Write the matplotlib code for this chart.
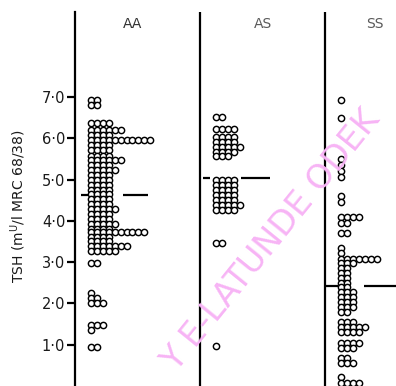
import matplotlib.pyplot as plt

# rows of the dot plot: TSH level of the row and how many circles sit on it
groups = ['AA', 'AS', 'SS']

aa_tsh = [6.93, 6.80, 6.38, 6.21, 6.08, 5.96, 5.84, 5.72, 5.58, 5.48, 5.36,
          5.24, 5.12, 5.00, 4.88, 4.76, 4.64, 4.52, 4.40, 4.28, 4.16, 4.04,
          3.92, 3.80, 3.74, 3.62, 3.52, 3.40, 3.28, 2.98, 2.25, 2.13, 2.00,
          1.48, 1.36, 0.95]
aa_n = [2, 2, 4, 6, 4, 11, 4, 4, 4, 6, 4,
        5, 4, 4, 4, 4, 4, 4, 4, 5, 4, 4,
        5, 4, 10, 4, 4, 7, 5, 2, 1, 2, 3,
        3, 1, 2]

as_tsh = [6.52, 6.23, 6.04, 5.92, 5.80, 5.67, 5.57, 4.99, 4.87, 4.75, 4.63,
          4.51, 4.39, 4.27, 3.47, 0.98]
as_n = [2, 4, 4, 4, 5, 4, 3, 4, 4, 4, 4,
        4, 5, 4, 2, 1]

ss_tsh = [6.93, 6.50, 5.50, 5.36, 5.21, 5.06, 4.60, 4.46, 4.10, 3.95, 3.70,
          3.35, 3.23, 3.08, 2.98, 2.86, 2.74, 2.62, 2.50, 2.40, 2.28, 2.16,
          2.04, 1.92, 1.80, 1.56, 1.43, 1.30, 1.05, 0.93, 0.68, 0.56, 0.22,
          0.08]
ss_n = [1, 1, 1, 1, 1, 1, 1, 1, 4, 2, 2,
        1, 1, 7, 3, 2, 2, 2, 2, 2, 3, 3,
        3, 3, 2, 3, 5, 4, 4, 3, 2, 3, 1,
        4]

means = [4.62, 5.04, 2.42]

yticks = [1, 2, 3, 4, 5, 6, 7]
ytick_labels = ['1·0', '2·0', '3·0', '4·0', '5·0', '6·0', '7·0']

rows = [(aa_tsh, aa_n), (as_tsh, as_n), (ss_tsh, ss_n)]

# mean bar pieces left / right of the dots, in column units
mean_left = [(0.05, 0.10), (0.02, 0.08), (0.0, 0.10)]
mean_right = [(0.38, 0.58), (0.33, 0.56), (0.31, 0.80)]

fig = plt.figure(figsize=(3.96, 3.86), dpi=100)
ax = fig.add_axes([75 / 396, 0.0, 321 / 396, 1 - 12 / 386])

offset = 0.13
step = 0.047
for g, (vals, counts) in enumerate(rows):
    xs, ys = [], []
    for v, n in zip(vals, counts):
        for i in range(n):
            xs.append(g + offset + i * step)
            ys.append(v)
    ax.plot(xs, ys, 'o', ms=4.5, mfc='white', mec='black', mew=1.05,
            zorder=3, clip_on=False)
    for a, b in (mean_left[g], mean_right[g]):
        ax.plot([g + a, g + b], [means[g], means[g]], color='black', lw=1.6,
                solid_capstyle='butt', zorder=2)
    if g > 0:
        ax.axvline(g, color='black', lw=1.6)

ax.set_xlim(0, 321 / 125)
ax.set_ylim(0.0, 9.06)
ax.set_xticks([])
ax.set_yticks(yticks)
ax.set_yticklabels(ytick_labels, fontsize=10.5, color='#1a1a1a')
ax.tick_params(axis='y', direction='out', length=6, width=1.6, pad=1)
for s in ['top', 'right', 'bottom']:
    ax.spines[s].set_visible(False)
ax.spines['left'].set_linewidth(1.6)

fig.text(18 / 396, 0.465, r'TSH (m$^{\mathrm{U}}$/l MRC 68/38)', rotation=90,
         ha='center', va='center', fontsize=10, color='#1a1a1a')

title_x = [133, 263, 375]
title_c = ['#333333', '#5a5a5a', '#5a5a5a']
for name, tx, tc in zip(groups, title_x, title_c):
    fig.text(tx / 396, 1 - 24 / 386, name, ha='center', va='center',
             fontsize=10, color=tc)

# pink watermark across the scan
fig.text(271 / 396, 1 - 240 / 386, 'Y E-LATUNDE ODEK', rotation=51,
         ha='center', va='center', fontsize=24, color='#f7b4f5', zorder=0)

fig.savefig('out.png', dpi=100)
